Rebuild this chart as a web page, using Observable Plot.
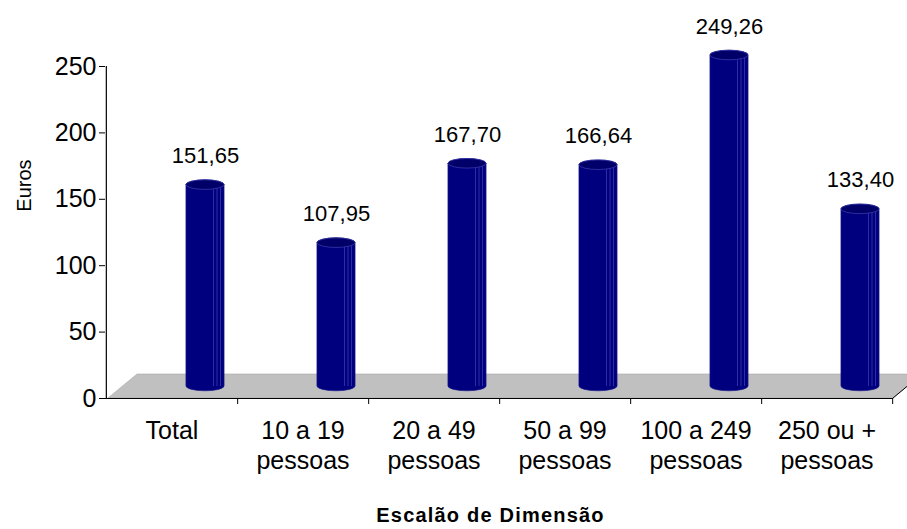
<!DOCTYPE html>
<html>
<head>
<meta charset="utf-8">
<script src="https://cdn.jsdelivr.net/npm/d3@7"></script>
<script src="https://cdn.jsdelivr.net/npm/@observablehq/plot@0.6"></script>
<style>
  html, body { margin: 0; padding: 0; background: #fff; }
  #chart { width: 907px; height: 529px; }
</style>
</head>
<body>
<div id="chart"></div>
<script>
const categories = ["Total", "10 a 19 pessoas", "20 a 49 pessoas", "50 a 99 pessoas", "100 a 249 pessoas", "250 ou + pessoas"];
const values = [151.65, 107.95, 167.70, 166.64, 249.26, 133.40];
const tickLabels = ["Total", "10 a 19\npessoas", "20 a 49\npessoas", "50 a 99\npessoas", "100 a 249\npessoas", "250 ou +\npessoas"];
const yTicks = [0, 50, 100, 150, 200, 250];
const yLabel = "Euros";
const xLabel = "Escalão de Dimensão";

const data = categories.map((c, i) => ({cat: c, value: values[i], label: tickLabels[i]}));

const W = 907, H = 529, ML = 105, MR = 14, MT = 66, MB = 131;
const bw = (W - ML - MR) / categories.length;
const barDx = 33.5, barDy = -12, barHalf = 19.25, capRy = 4.8;
const inset = bw / 2 - barHalf;
const font = "'Liberation Sans', Arial, Helvetica, sans-serif";

const plot = Plot.plot({
  width: W, height: H,
  marginLeft: ML, marginRight: MR, marginTop: MT, marginBottom: MB,
  style: {fontFamily: font, background: "white", color: "black", overflow: "visible"},
  x: {domain: categories, padding: 0, axis: null},
  y: {domain: [0, 250], axis: null},
  marks: [
    Plot.ruleY([0], {stroke: "black", strokeWidth: 1.2}),
    Plot.ruleX([categories[0]], {dx: -bw / 2, y1: 0, y2: 250, stroke: "black", strokeWidth: 1.2}),
    Plot.ruleX(categories, {dx: bw / 2, y1: 0, y2: -4.5, stroke: "black"}),
    Plot.axisY(yTicks, {tickSize: 6, tickPadding: 3, fontSize: 25, label: null, tickFormat: d => String(d)}),
    // cylinder bodies
    Plot.barY(data, {x: "cat", y: "value", dx: barDx, dy: barDy,
      insetLeft: inset, insetRight: inset, insetTop: -capRy, insetBottom: -capRy,
      rx: barHalf, ry: capRy, fill: "#00007e", stroke: "#1a1a8c", strokeWidth: 0.6}),
    // side highlights
    Plot.ruleX(data, {x: "cat", y1: 0, y2: "value", dx: barDx + 8, dy: barDy, stroke: "#4646b8", strokeWidth: 0.8, strokeOpacity: 0.8}),
    Plot.ruleX(data, {x: "cat", y1: 0, y2: "value", dx: barDx + 11.5, dy: barDy, stroke: "#4646b8", strokeWidth: 0.8, strokeOpacity: 0.8}),
    Plot.ruleX(data, {x: "cat", y1: 0, y2: "value", dx: barDx + 15, dy: barDy, stroke: "#4646b8", strokeWidth: 0.8, strokeOpacity: 0.8}),
    // caps
    Plot.barY(data, {x: "cat", y1: "value", y2: "value", dx: barDx, dy: barDy,
      insetLeft: inset, insetRight: inset, insetTop: -capRy, insetBottom: -capRy,
      rx: barHalf, ry: capRy, fill: "#000068", stroke: "#3838a8", strokeWidth: 0.8}),
    // value labels
    Plot.text(data, {x: "cat", y: "value", text: d => d.value.toFixed(2).replace(".", ","),
      dx: barDx, dy: -41, fontSize: 22, fill: "black"}),
    // category labels
    Plot.text(data, {x: "cat", text: "label", frameAnchor: "bottom", lineAnchor: "top",
      dy: 19, fontSize: 25, lineHeight: 1.2, fill: "black"}),
    // axis titles
    Plot.text([yLabel], {text: d => d, frameAnchor: "left", textAnchor: "middle", lineAnchor: "middle",
      rotate: -90, dx: -81, dy: -47, fontSize: 20, fill: "black"}),
    Plot.text([xLabel], {text: d => d, frameAnchor: "bottom", textAnchor: "middle", lineAnchor: "middle",
      dx: -9, dy: 117, fontSize: 20, fontWeight: "bold", fill: "black"})
  ]
});

document.getElementById("chart").appendChild(plot);

// 3D floor drawn from the scales
const sx = plot.scale("x"), sy = plot.scale("y");
const r0 = sx.range[0], r1 = sx.range[1];
const y0 = sy.apply(0);
const ddx = 29, ddy = -24;
const svg = d3.select(plot);
const floorPts = [[r0 + 3, y0], [r1, y0], [r1 + ddx, y0 + ddy], [r0 + 3 + ddx, y0 + ddy]];
svg.insert("path", "g")
  .attr("d", "M" + floorPts.map(p => p.join(",")).join("L") + "Z")
  .attr("fill", "#c0c0c0")
  .attr("stroke", "#a8a8a8")
  .attr("stroke-width", 0.6);
svg.insert("path", "g:nth-of-type(2)")
  .attr("d", `M${r1},${y0}L${r1 + ddx},${y0 + ddy}`)
  .attr("stroke", "black")
  .attr("stroke-width", 1);
svg.selectAll("text").filter(function () { return this.textContent === xLabel; })
  .attr("letter-spacing", 1.2);
</script>
</body>
</html>
